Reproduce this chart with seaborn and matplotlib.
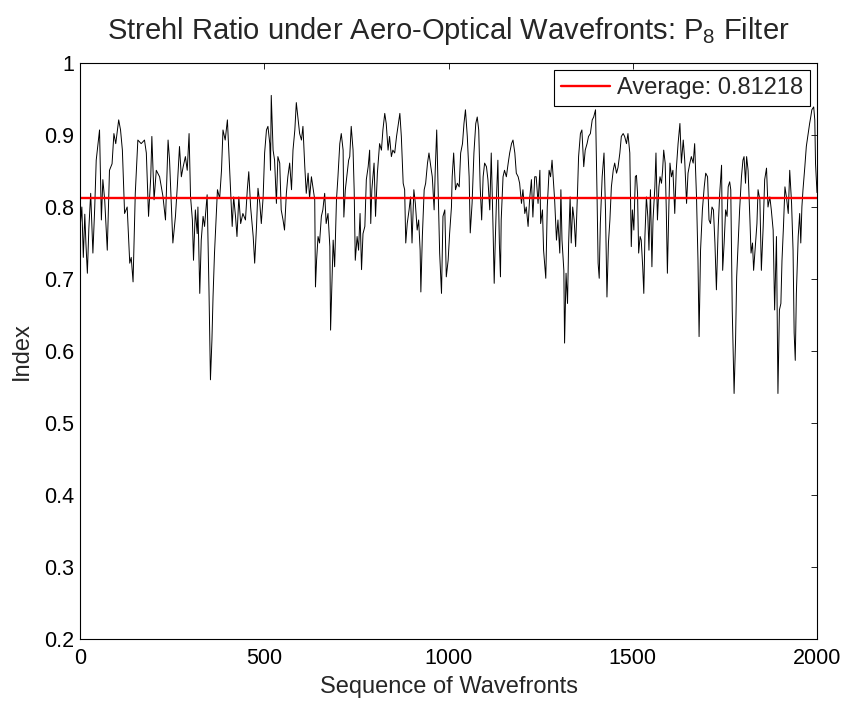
import matplotlib
matplotlib.use("Agg")
import matplotlib.pyplot as plt
import seaborn as sns
import pandas as pd

sequence = [
    0, 5, 9, 13, 16, 20, 24, 29, 35, 40, 44, 53, 58, 62, 67, 74, 80, 87, 92, 97,
    105, 110, 115, 121, 128, 135, 139, 144, 150, 157, 166, 175, 180, 186, 192, 195, 201, 207, 216, 225,
    232, 239, 243, 252, 259, 264, 270, 275, 280, 286, 291, 296, 300, 305, 308, 313, 318, 320, 325, 329,
    334, 338, 345, 350, 354, 358, 361, 365, 373, 379, 384, 388, 394, 400, 403, 409, 413, 417, 422, 426,
    431, 436, 442, 449, 454, 458, 463, 470, 474, 479, 483, 488, 492, 497, 501, 506, 510, 515, 517, 519,
    524, 528, 533, 537, 542, 546, 551, 555, 560, 564, 569, 574, 578, 583, 587, 592, 596, 601, 605, 610,
    614, 619, 623, 628, 632, 637, 639, 642, 646, 650, 655, 659, 664, 668, 673, 678, 680, 684, 687, 691,
    696, 700, 705, 709, 714, 716, 720, 725, 729, 732, 736, 741, 744, 747, 752, 756, 760, 764, 768, 773,
    777, 782, 786, 789, 792, 798, 802, 807, 813, 818, 822, 827, 831, 836, 840, 845, 849, 854, 859, 863,
    868, 872, 877, 881, 884, 888, 893, 897, 901, 906, 910, 915, 919, 923, 925, 929, 934, 938, 943, 947,
    952, 956, 961, 964, 968, 976, 981, 985, 990, 994, 999, 1003, 1008, 1010, 1014, 1019, 1024, 1029, 1033, 1038,
    1042, 1046, 1051, 1056, 1059, 1064, 1069, 1074, 1078, 1082, 1086, 1090, 1094, 1098, 1103, 1107, 1112, 1116, 1121, 1124,
    1127, 1131, 1134, 1138, 1141, 1143, 1148, 1152, 1157, 1162, 1166, 1171, 1175, 1180, 1184, 1189, 1193, 1198, 1202, 1207,
    1211, 1216, 1220, 1225, 1229, 1234, 1238, 1243, 1248, 1250, 1255, 1258, 1264, 1268, 1273, 1277, 1281, 1285, 1288, 1293,
    1297, 1302, 1305, 1308, 1313, 1315, 1319, 1323, 1326, 1330, 1333, 1337, 1341, 1345, 1350, 1353, 1358, 1362, 1367, 1371,
    1376, 1380, 1385, 1390, 1394, 1399, 1403, 1406, 1409, 1412, 1417, 1422, 1426, 1430, 1434, 1438, 1442, 1447, 1451, 1456,
    1460, 1465, 1469, 1474, 1478, 1483, 1487, 1492, 1496, 1499, 1503, 1507, 1510, 1513, 1516, 1520, 1523, 1527, 1530, 1533,
    1537, 1541, 1544, 1548, 1552, 1555, 1560, 1563, 1567, 1571, 1574, 1578, 1581, 1584, 1588, 1591, 1594, 1598, 1601, 1605,
    1609, 1614, 1618, 1623, 1628, 1632, 1637, 1641, 1646, 1650, 1655, 1659, 1664, 1668, 1673, 1677, 1680, 1684, 1689, 1694,
    1698, 1703, 1707, 1711, 1715, 1719, 1723, 1727, 1732, 1736, 1741, 1744, 1748, 1752, 1756, 1759, 1763, 1766, 1770, 1772,
    1775, 1779, 1782, 1786, 1790, 1795, 1799, 1802, 1806, 1809, 1813, 1818, 1821, 1825, 1828, 1832, 1837, 1840, 1845, 1849,
    1854, 1858, 1863, 1867, 1872, 1876, 1881, 1885, 1890, 1894, 1898, 1902, 1905, 1909, 1913, 1917, 1922, 1926, 1931, 1935,
    1938, 1941, 1944, 1949, 1953, 1956, 1959, 1962, 1967, 1971, 1976, 1980, 1983, 1986, 1991, 1994, 1996, 2000,
]

strehl = [
    0.77, 0.80, 0.73, 0.79, 0.75, 0.708, 0.77, 0.819, 0.736, 0.80, 0.865, 0.907, 0.782, 0.838, 0.81, 0.74, 0.851, 0.86, 0.902, 0.888,
    0.921, 0.907, 0.879, 0.791, 0.80, 0.722, 0.73, 0.696, 0.819, 0.893, 0.888, 0.893, 0.875, 0.787, 0.842, 0.898, 0.81, 0.851, 0.842, 0.815,
    0.782, 0.893, 0.865, 0.750, 0.787, 0.828, 0.884, 0.842, 0.856, 0.870, 0.851, 0.902, 0.814, 0.782, 0.726, 0.796, 0.763, 0.800, 0.680, 0.754,
    0.787, 0.773, 0.817, 0.685, 0.560, 0.615, 0.675, 0.736, 0.824, 0.812, 0.851, 0.907, 0.893, 0.921, 0.888, 0.819, 0.773, 0.814, 0.787, 0.759,
    0.814, 0.777, 0.791, 0.782, 0.824, 0.849, 0.800, 0.759, 0.722, 0.773, 0.826, 0.805, 0.777, 0.814, 0.875, 0.907, 0.912, 0.888, 0.851, 0.955,
    0.879, 0.865, 0.805, 0.870, 0.861, 0.796, 0.782, 0.768, 0.819, 0.842, 0.861, 0.824, 0.879, 0.907, 0.945, 0.921, 0.902, 0.893, 0.912, 0.856,
    0.819, 0.847, 0.812, 0.842, 0.828, 0.810, 0.689, 0.726, 0.759, 0.750, 0.787, 0.796, 0.819, 0.777, 0.791, 0.745, 0.629, 0.703, 0.754, 0.717,
    0.810, 0.842, 0.888, 0.902, 0.879, 0.786, 0.824, 0.847, 0.865, 0.870, 0.912, 0.879, 0.824, 0.726, 0.759, 0.740, 0.791, 0.713, 0.763, 0.773,
    0.838, 0.856, 0.879, 0.777, 0.824, 0.861, 0.787, 0.847, 0.888, 0.879, 0.907, 0.930, 0.916, 0.879, 0.898, 0.870, 0.879, 0.875, 0.898, 0.912,
    0.930, 0.898, 0.833, 0.824, 0.750, 0.777, 0.796, 0.814, 0.750, 0.824, 0.805, 0.768, 0.782, 0.740, 0.682, 0.759, 0.824, 0.833, 0.861, 0.875,
    0.856, 0.842, 0.796, 0.851, 0.907, 0.736, 0.680, 0.787, 0.796, 0.703, 0.726, 0.763, 0.800, 0.842, 0.875, 0.824, 0.833, 0.828, 0.875, 0.888,
    0.916, 0.935, 0.898, 0.842, 0.764, 0.805, 0.875, 0.916, 0.925, 0.907, 0.828, 0.782, 0.842, 0.861, 0.856, 0.838, 0.796, 0.875, 0.768, 0.694,
    0.754, 0.824, 0.865, 0.750, 0.703, 0.782, 0.842, 0.851, 0.842, 0.861, 0.875, 0.888, 0.893, 0.875, 0.847, 0.842, 0.833, 0.805, 0.824, 0.791,
    0.800, 0.773, 0.81, 0.838, 0.786, 0.842, 0.842, 0.805, 0.851, 0.777, 0.796, 0.740, 0.701, 0.800, 0.851, 0.842, 0.865, 0.833, 0.810, 0.754,
    0.782, 0.736, 0.824, 0.754, 0.712, 0.611, 0.708, 0.666, 0.750, 0.814, 0.750, 0.800, 0.782, 0.745, 0.819, 0.870, 0.902, 0.907, 0.856, 0.879,
    0.888, 0.898, 0.902, 0.921, 0.925, 0.935, 0.819, 0.722, 0.701, 0.777, 0.842, 0.875, 0.796, 0.675, 0.750, 0.782, 0.828, 0.851, 0.861, 0.847,
    0.855, 0.875, 0.898, 0.902, 0.898, 0.888, 0.902, 0.875, 0.745, 0.796, 0.768, 0.842, 0.844, 0.819, 0.736, 0.759, 0.754, 0.717, 0.680, 0.759,
    0.814, 0.786, 0.740, 0.824, 0.717, 0.782, 0.828, 0.875, 0.782, 0.828, 0.842, 0.833, 0.851, 0.879, 0.861, 0.796, 0.708, 0.800, 0.861, 0.842,
    0.851, 0.791, 0.851, 0.888, 0.916, 0.861, 0.893, 0.865, 0.805, 0.847, 0.861, 0.870, 0.861, 0.888, 0.814, 0.726, 0.620, 0.740, 0.796, 0.828,
    0.847, 0.842, 0.782, 0.777, 0.800, 0.796, 0.750, 0.685, 0.773, 0.819, 0.858, 0.712, 0.750, 0.796, 0.787, 0.828, 0.835, 0.824, 0.657, 0.611,
    0.541, 0.615, 0.703, 0.750, 0.796, 0.842, 0.865, 0.870, 0.833, 0.870, 0.851, 0.782, 0.736, 0.750, 0.712, 0.740, 0.777, 0.824, 0.810, 0.712,
    0.773, 0.838, 0.854, 0.800, 0.814, 0.796, 0.768, 0.657, 0.759, 0.541, 0.657, 0.666, 0.726, 0.773, 0.828, 0.814, 0.791, 0.851, 0.805, 0.740,
    0.625, 0.587, 0.680, 0.759, 0.791, 0.750, 0.800, 0.824, 0.856, 0.884, 0.902, 0.916, 0.925, 0.935, 0.939, 0.921, 0.86, 0.82,
]

average = 0.81218
x_ticks = [0, 500, 1000, 1500, 2000]
x_tick_labels = ["0", "500", "1000", "1500", "2000"]
y_ticks = [0.2, 0.3, 0.4, 0.5, 0.6, 0.7, 0.8, 0.9, 1.0]
y_tick_labels = ["0.2", "0.3", "0.4", "0.5", "0.6", "0.7", "0.8", "0.9", "1"]

df = pd.DataFrame({"Sequence": sequence, "Strehl": strehl})

sns.set_style("white")
plt.rcParams["font.family"] = ["Liberation Sans", "DejaVu Sans"]
plt.rcParams["mathtext.default"] = "regular"

fig = plt.figure(figsize=(8.46, 7.02), dpi=100)
ax = fig.add_axes([80 / 846, 1 - 639 / 702, (817 - 80) / 846, (639 - 63) / 702])

sns.lineplot(data=df, x="Sequence", y="Strehl", ax=ax, color="black",
             linewidth=0.7, estimator=None, sort=False)
ax.axhline(average, color="#ff0000", linewidth=1.7, label=f"Average: {average}")

ax.set_xlim(0, 2000)
ax.set_ylim(0.2, 1.0)
ax.set_xticks(x_ticks)
ax.set_xticklabels(x_tick_labels)
ax.set_yticks(y_ticks)
ax.set_yticklabels(y_tick_labels)
ax.tick_params(direction="in", length=4, width=0.6, top=True, right=True,
               labelsize=15.5, colors="black")
ax.tick_params(axis="x", pad=6.5)
ax.tick_params(axis="y", pad=4)
for s in ax.spines.values():
    s.set_color("black")
    s.set_linewidth(0.8)

ax.set_xlabel("Sequence of Wavefronts", fontsize=17, labelpad=5)
ax.set_ylabel("Index", fontsize=17, labelpad=8)
ax.set_title("Strehl Ratio under Aero-Optical Wavefronts: P$_8$ Filter", fontsize=21, pad=17)

leg = ax.legend(loc="upper right", fontsize=17, frameon=True, fancybox=False,
                edgecolor="black", framealpha=1, borderpad=0.3, handlelength=2.07,
                handletextpad=0.3, borderaxespad=0.3)
leg.get_frame().set_linewidth(0.8)

fig.savefig("out.png", dpi=100)
